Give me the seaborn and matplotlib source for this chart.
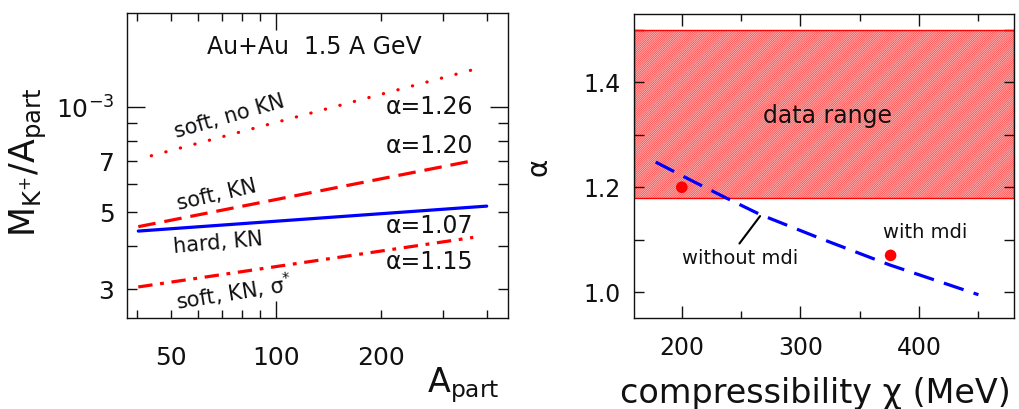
import matplotlib
matplotlib.use('Agg')
import matplotlib.pyplot as plt
import matplotlib.ticker as mticker
import seaborn as sns

# left panel: M_K+/A_part vs A_part, end points
a_dotted = [44, 366]
m_dotted = [7.25e-4, 1.28e-3]
a_dashed = [40.4, 366]
m_dashed = [4.54e-4, 7.02e-4]
a_solid = [40.4, 400]
m_solid = [4.41e-4, 5.20e-4]
a_dashdot = [40.4, 366]
m_dashdot = [3.05e-4, 4.23e-4]

alpha_labels = ['α=1.26', 'α=1.20', 'α=1.07', 'α=1.15']
alpha_label_y = [1.0e-3, 7.73e-4, 4.56e-4, 3.60e-4]

x_ticks_left = [50, 100, 200]
y_ticks_left = [3e-4, 5e-4, 7e-4, 1e-3]

# right panel: alpha vs compressibility
kappa_line = [178, 208, 237, 266, 316, 375, 450]
alpha_line = [1.248, 1.213, 1.180, 1.148, 1.103, 1.052, 0.995]
kappa_pts = [200, 376]
alpha_pts = [1.20, 1.07]
data_lo, data_hi = 1.18, 1.50

sns.set_style('ticks')
plt.rcParams['font.family'] = ['DejaVu Sans']
plt.rcParams['mathtext.fontset'] = 'dejavusans'
plt.rcParams['mathtext.default'] = 'regular'
plt.rcParams['hatch.linewidth'] = 0.4
plt.rcParams['axes.linewidth'] = 1.0
plt.rcParams['axes.edgecolor'] = '#111111'
txt = '#111111'

fig = plt.figure(figsize=(10.19, 4.09), dpi=100)
ax1 = fig.add_axes([0.1246, 0.2225, 0.3739, 0.7457])
ax2 = fig.add_axes([0.6225, 0.2218, 0.3726, 0.7433])

# ---- left panel
sns.lineplot(x=a_dotted, y=m_dotted, ax=ax1, color='red', lw=2.3, estimator=None,
             linestyle=(0, (0.1, 4.6)), dash_capstyle='round')
sns.lineplot(x=a_dashed, y=m_dashed, ax=ax1, color='red', lw=2.3, estimator=None,
             linestyle=(0, (5.5, 2.8)))
sns.lineplot(x=a_solid, y=m_solid, ax=ax1, color='blue', lw=2.3, estimator=None)
sns.lineplot(x=a_dashdot, y=m_dashdot, ax=ax1, color='red', lw=2.3, estimator=None,
             linestyle=(0, (4.5, 2.4, 1.2, 2.4)))

ax1.set_xscale('log')
ax1.set_yscale('log')
ax1.set_xlim(37.5, 460)
ax1.set_ylim(2.485e-4, 1.86e-3)

ax1.xaxis.set_major_locator(mticker.FixedLocator([100]))
ax1.xaxis.set_minor_locator(mticker.FixedLocator([40, 50, 60, 70, 80, 90, 200, 300, 400]))
ax1.xaxis.set_major_formatter(mticker.FuncFormatter(lambda v, p: '%d' % round(v)))
ax1.xaxis.set_minor_formatter(mticker.FuncFormatter(
    lambda v, p: '%d' % round(v) if round(v) in x_ticks_left else ''))
ax1.yaxis.set_major_locator(mticker.FixedLocator([1e-3]))
ax1.yaxis.set_minor_locator(mticker.FixedLocator([3e-4, 4e-4, 5e-4, 6e-4, 7e-4, 8e-4, 9e-4]))
ax1.yaxis.set_major_formatter(mticker.FixedFormatter([r'$10^{-3}$']))
ax1.yaxis.set_minor_formatter(mticker.FuncFormatter(
    lambda v, p: '%d' % round(v * 1e4) if any(abs(v - t) < 1e-6 for t in y_ticks_left) else ''))

ax1.tick_params(which='both', direction='in', top=True, right=True, labelsize=18,
                labelcolor=txt, width=1.0, color=txt)
ax1.tick_params(axis='x', which='major', length=12, pad=20)
ax1.tick_params(axis='x', which='minor', length=6, pad=20)
ax1.tick_params(axis='y', which='major', length=13, pad=9)
ax1.tick_params(axis='y', which='minor', length=7, pad=9)
ax1.set_xlabel('')
ax1.set_ylabel('')

ax1.text(0.491, 0.889, 'Au+Au  1.5 A GeV', transform=ax1.transAxes, ha='center',
         va='center', fontsize=17, color=txt)
for lab, yv in zip(alpha_labels, alpha_label_y):
    ax1.text(366, yv, lab, ha='right', va='center', fontsize=17, color=txt)

ax1.text(73.4, 9.4e-4, 'soft, no KN', rotation=16, rotation_mode='anchor',
         ha='center', va='center', fontsize=15, color=txt)
ax1.text(67.7, 5.6e-4, 'soft, KN', rotation=13, rotation_mode='anchor',
         ha='center', va='center', fontsize=15, color=txt)
ax1.text(68.4, 4.07e-4, 'hard, KN', rotation=5, rotation_mode='anchor',
         ha='center', va='center', fontsize=15, color=txt)
ax1.text(75.9, 2.94e-4, r'soft, KN, $\sigma^{*}$', rotation=9, rotation_mode='anchor',
         ha='center', va='center', fontsize=15, color=txt)

fig.text(0.0275, 0.604, r'$M_{K^{+}}/A_{part}$', rotation=90, ha='center',
         va='center', fontsize=25, color=txt)
fig.text(500 / 1019, 1 - 392 / 409, r'$A_{part}$', ha='right', va='baseline',
         fontsize=24, color=txt)

# ---- right panel
ax2.axhspan(data_lo, data_hi, facecolor='#ff3a3a', edgecolor='#ffe0e0',
            hatch='/' * 18, lw=0, zorder=0)
ax2.axhspan(data_lo, data_hi, fill=False, edgecolor='red', lw=1.0, zorder=1)

sns.lineplot(x=kappa_line, y=alpha_line, ax=ax2, color='blue', lw=2.3,
             estimator=None, sort=False, linestyle=(0, (6.5, 3.3)), zorder=3)
sns.scatterplot(x=kappa_pts, y=alpha_pts, ax=ax2, color='red', s=70,
                edgecolor='none', zorder=5)

ax2.set_xlim(160, 480)
ax2.set_ylim(0.95, 1.53)
ax2.xaxis.set_major_locator(mticker.FixedLocator([200, 300, 400]))
ax2.xaxis.set_minor_locator(mticker.FixedLocator([250, 350, 450]))
ax2.yaxis.set_major_locator(mticker.FixedLocator([1.0, 1.2, 1.4]))
ax2.yaxis.set_minor_locator(mticker.FixedLocator([1.1, 1.3, 1.5]))
ax2.yaxis.set_major_formatter(mticker.FormatStrFormatter('%.1f'))
ax2.tick_params(which='both', direction='in', top=True, right=True, labelsize=17,
                labelcolor=txt, width=1.0, color=txt)
ax2.tick_params(axis='x', which='major', length=8.5, pad=13)
ax2.tick_params(axis='x', which='minor', length=5, pad=13)
ax2.tick_params(axis='y', which='both', length=7, pad=10)
ax2.set_xlabel('')
ax2.set_ylabel('')

ax2.text(323, 1.336, 'data range', ha='center', va='center', fontsize=17, color=txt)
ax2.text(405, 1.1135, 'with mdi', ha='center', va='center', fontsize=14, color=txt)
ax2.annotate('without mdi', xy=(266, 1.145), xytext=(249, 1.064), ha='center',
             va='center', fontsize=14, color=txt,
             arrowprops=dict(arrowstyle='-', color='black', lw=1.5,
                             relpos=(0.46, 1.0), shrinkA=2, shrinkB=0))

fig.text(538 / 1019, 1 - 167 / 409, 'α', rotation=90, ha='center', va='center',
         fontsize=20, color=txt)
fig.text(815 / 1019, 1 - 403 / 409, 'compressibility χ (MeV)', ha='center',
         va='baseline', fontsize=24, color=txt)

fig.savefig('out.png', dpi=100)
